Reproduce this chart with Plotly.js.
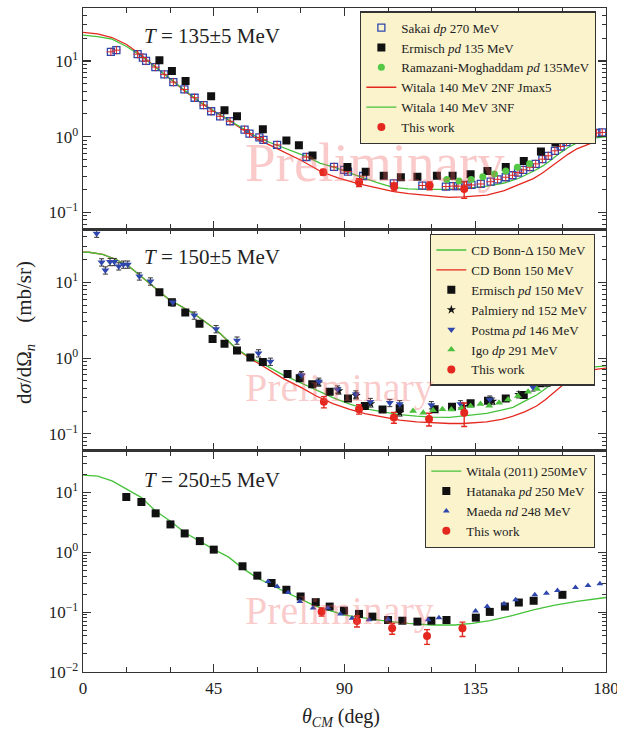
<!DOCTYPE html>
<html><head><meta charset="utf-8">
<script src="https://cdn.plot.ly/plotly-3.0.1.min.js"></script>
<style>html,body{margin:0;padding:0;background:#fff;}</style>
</head><body><div id="chart" style="width:617px;height:730px"></div>
<script>
// ---------- T = 135 MeV panel ----------
const sakaiX = [9.6,11.5,18.8,20.6,21.7,24.9,28.0,31.1,34.9,38.4,41.5,44.1,47.2,50.6,55.6,57.3,60.7,62.1,66.8,76.9,86.4,89.9,91.2,96.4,107.0,116.8,124.9,127.4,129.1,132.0,133.7,136.9,140.3,142.7,145.5,147.8,149.7,151.5,153.8,155.8,158.1,160.1,162.4,164.4,166.4,168.7,171.0,172.8,174.7,176.7,178.7];
const sakaiY = [13.2,13.9,12.3,11.1,10.0,8.3,6.65,5.26,4.21,3.27,2.61,2.17,1.86,1.60,1.24,1.10,0.98,0.91,0.78,0.54,0.40,0.365,0.346,0.303,0.243,0.227,0.220,0.223,0.223,0.231,0.231,0.238,0.255,0.274,0.292,0.31,0.336,0.365,0.396,0.438,0.506,0.56,0.652,0.743,0.85,0.93,1.01,1.05,1.09,1.12,1.14];
const ermisch135X = [26.3,30.6,35.3,44.1,48.7,53.0,61.9,70.0,74.3,79.0,91.0,97.3,103.5,109.4,115.1,121.8,127.2,133.4,139.2,145.5,151.7,157.6,162.6,169.8];
const ermisch135Y = [10.2,7.36,5.42,3.43,2.23,1.86,1.26,0.89,0.77,0.565,0.40,0.346,0.306,0.292,0.297,0.306,0.306,0.32,0.353,0.40,0.48,0.64,0.84,1.16];
const ramazaniX = [125.2,129.4,133.6,137.6,141.6,145.5,149.5,153.7];
const ramazaniY = [0.273,0.26,0.273,0.297,0.323,0.354,0.396,0.44];
const work135X = [82.7,95.0,107.1,119.3,131.2];
const work135Y = [0.34,0.25,0.219,0.227,0.204];
const work135E = [0.03,0.03,0.026,0.027,0.05];
const witala2nfX = [0,5,10,15,20,25,30,35,40,45,50,55,60,65,70,75,82,88,95,101,107,112,117,122,126,131,135,139,145,150,155,158,161,164,167,170,173,175.8];
const witala2nfY = [23.8,22.8,20.4,16.5,12.0,8.4,5.8,4.0,2.9,2.15,1.66,1.24,0.93,0.75,0.61,0.49,0.345,0.285,0.238,0.21,0.188,0.178,0.17,0.163,0.158,0.161,0.165,0.17,0.195,0.231,0.28,0.33,0.40,0.495,0.59,0.693,0.78,0.85];
const witala3nfX = [0,5,10,15,20,25,30,35,40,45,50,55,60,65,70,77,81.5,86.4,91,96.4,101,106.7,112,117,122,126,133,139,145,150,155,158.3,161,164.1,167,169.8,172.5,175.6,178.8,180];
const witala3nfY = [21.9,21.0,19.4,15.5,11.6,8.3,5.84,4.1,2.94,2.2,1.68,1.27,0.98,0.82,0.69,0.547,0.448,0.396,0.34,0.288,0.25,0.215,0.205,0.202,0.2,0.202,0.21,0.223,0.245,0.283,0.35,0.412,0.49,0.608,0.72,0.824,0.9,0.96,0.99,1.0];

// ---------- T = 150 MeV panel ----------
const postmaX = [4.7,6.4,7.7,9.3,10.8,12.3,13.9,15.4,19.4,23.2,30.9,38.3,45.8,53.0,60.4,64.5,75.2,81.2,87.6,93.9,98.9,105.6,109.0,119.9,129.9,140.0,154.9,159.7,165.0,169.8];
const postmaY = [44,18.4,14.4,18.6,18.6,16.3,17.2,17.2,12.0,10.3,5.44,3.66,2.42,1.71,1.16,0.90,0.60,0.49,0.387,0.333,0.265,0.257,0.247,0.24,0.247,0.285,0.412,0.48,0.569,0.77];
const ermisch150X = [26.3,30.6,35.2,40.1,44.6,48.7,53.0,57.6,61.9,70.4,74.6,78.9,84.9,91.2,97.0,103.1,109.0,121.0,127.0,133.4,139.4,145.5,151.7,157.5,169.8];
const ermisch150Y = [7.38,5.44,4.0,2.84,1.78,1.54,1.26,1.02,0.89,0.618,0.54,0.45,0.36,0.294,0.233,0.21,0.217,0.212,0.228,0.253,0.274,0.294,0.326,0.464,0.735];
const palmieryX = [75,81,88,94,99,109,131,141,150,160,165,170];
const palmieryY = [0.58,0.47,0.37,0.32,0.25,0.19,0.23,0.27,0.33,0.47,0.58,0.74];
const igoX = [113.6,117.1,120.5,123.7,126.8,130.3,133.4,136.8,139.8,143.2,146.3,149.7,153.2,156.3];
const igoY = [0.20,0.19,0.205,0.212,0.21,0.217,0.233,0.247,0.235,0.258,0.285,0.316,0.36,0.39];
const work150X = [82.9,95.0,107.0,119.1,131.2];
const work150Y = [0.265,0.212,0.165,0.157,0.19];
const work150E = [0.045,0.03,0.027,0.03,0.065];
const bonnDeltaX = [0,2,6.8,11.4,16,22.9,29.7,37.8,45.8,52.7,57.4,62,68.8,75,80.3,86,91.8,97,103.3,109,114.8,120,126.2,130.8,138.9,144,148,152,156.1,159,161.8,164.5,167.5,170.5,173.3,176.5,180];
const bonnDeltaY = [25,24.9,23.3,20,16,9.8,5.9,3.93,2.37,1.35,1.02,0.84,0.60,0.47,0.38,0.30,0.247,0.215,0.195,0.18,0.171,0.166,0.165,0.171,0.186,0.205,0.224,0.27,0.326,0.39,0.464,0.55,0.63,0.7,0.748,0.775,0.79];
const bonnX = [0,2,6.8,11.4,16,22.9,29.7,37.8,45.8,52.7,57.4,62,68.8,75,80.3,86,91.8,97,103.3,109,114.8,120,126.2,130.8,138.9,144,148,152,156.1,159,161.8,164.5,167.5,170.5,173.3,176.5,180];
const bonnY = [25,24.9,23.3,20,16,9.8,5.9,3.93,2.37,1.33,1.0,0.78,0.54,0.41,0.316,0.25,0.21,0.185,0.165,0.152,0.144,0.14,0.137,0.137,0.144,0.155,0.171,0.195,0.233,0.28,0.343,0.42,0.525,0.6,0.662,0.71,0.735];

// ---------- T = 250 MeV panel ----------
const hatanakaX = [14.9,20.1,25.0,30.1,35.0,40.2,45.0,54.9,60.0,64.9,70.0,74.9,80.1,84.9,89.8,95.0,99.6,105.0,109.9,115.1,119.9,125.1,135.2,140.0,145.2,150.0,155.1,165.0];
const hatanakaY = [8.43,6.95,4.49,2.93,2.07,1.54,1.11,0.585,0.408,0.307,0.237,0.183,0.147,0.124,0.106,0.0935,0.0843,0.074,0.072,0.0695,0.072,0.074,0.081,0.101,0.124,0.145,0.155,0.195];
const maedaX = [63.7,66.8,70.6,74.6,79.2,84.3,88.6,92.6,98.4,105.0,118.8,122.5,135.1,139.1,144.9,148.9,155.5,159.5,163.3,169.5,173.8,177.9];
const maedaY = [0.327,0.269,0.213,0.151,0.117,0.117,0.0935,0.0795,0.0745,0.076,0.0745,0.081,0.105,0.124,0.138,0.161,0.195,0.208,0.231,0.259,0.28,0.299];
const work250X = [82.1,94.3,106.4,118.4,130.6];
const work250Y = [0.102,0.0715,0.0538,0.04,0.0538];
const work250E = [0.016,0.015,0.011,0.011,0.0145];
const witala250X = [0,5,10,15,20,25,30,35,40,45,50,55,60,65,70,75,80,90,100,105,112,120,128,134,140,148,155,162,170,180];
const witala250Y = [19.5,18.8,15.6,11.4,8.3,4.9,3.35,2.15,1.55,1.12,0.84,0.54,0.372,0.28,0.213,0.165,0.126,0.089,0.075,0.07,0.065,0.061,0.061,0.065,0.072,0.088,0.109,0.13,0.152,0.176];

// ---------- axis labels ----------
const xTickVals = [0,45,90,135,180];
const xTickText = ['0','45','90','135','180'];
const xMinorVals = [15,30,60,75,105,120,150,165];
const yDecades = [-2,-1,0,1];
const yTickText = ['10<sup>−2</sup>','10<sup>−1</sup>','10<sup>0</sup>','10<sup>1</sup>'];

const SERIF = 'Liberation Serif, serif';
const RED = '#e4281f', GREEN = '#45c23a', BLUE = '#2f47ad', BLACK = '#111';

function line(x, y, color, name, ax, leg, rank, show=true){
  return {type:'scatter', mode:'lines', x, y, name, xaxis:'x'+ax, yaxis:'y'+ax,
    line:{color, width:1.3}, legend:leg, legendrank:rank, showlegend:show, hoverinfo:'skip'};
}
function pts(x, y, sym, color, size, name, ax, leg, rank, extra={}){
  return Object.assign({type:'scatter', mode:'markers', x, y, name, xaxis:'x'+ax, yaxis:'y'+ax,
    marker:{symbol:sym, color, size, line:{width:0}}, legend:leg, legendrank:rank, cliponaxis:true}, extra);
}
function work(x, y, e, ax, leg, rank){
  return pts(x, y, 'circle', RED, 8, 'This work', ax, leg, rank,
    {error_y:{type:'data', array:e, color:RED, thickness:1.4, width:3}});
}

const traces = [
  // top (axis 3)
  line(witala2nfX, witala2nfY, RED, 'Witala 140 MeV 2NF Jmax5', '3', 'legend', 4),
  line(witala3nfX, witala3nfY, GREEN, 'Witala 140 MeV 3NF', '3', 'legend', 5),
  pts(sakaiX, sakaiY, 'square-open', BLUE, 7, 'Sakai <i>dp</i> 270 MeV', '3', 'legend', 1, {marker:{symbol:'square-open', color:BLUE, size:7, line:{width:1.3, color:BLUE}}}),
  pts(sakaiX, sakaiY, 'cross-thin-open', BLACK, 6, 'Sakai cross', '3', 'legend', 99, {showlegend:false, marker:{symbol:'cross-thin-open', size:6, line:{width:1, color:BLACK}}}),
  pts(ermisch135X, ermisch135Y, 'square', BLACK, 8, 'Ermisch <i>pd</i> 135 MeV', '3', 'legend', 2),
  pts(ramazaniX, ramazaniY, 'circle', '#55c945', 7, 'Ramazani-Moghaddam <i>pd</i> 135MeV', '3', 'legend', 3),
  work(work135X, work135Y, work135E, '3', 'legend', 6),
  // middle (axis 2)
  line(bonnX, bonnY, RED, 'CD Bonn 150 MeV', '2', 'legend2', 2),
  line(bonnDeltaX, bonnDeltaY, GREEN, 'CD Bonn-Δ 150 MeV', '2', 'legend2', 1),
  pts(palmieryX, palmieryY, 'star', BLACK, 7, 'Palmiery nd 152 MeV', '2', 'legend2', 4,
      {error_y:{type:'percent', value:10, color:'#555', thickness:1, width:2.5}}),
  pts(ermisch150X, ermisch150Y, 'square', BLACK, 8, 'Ermisch <i>pd</i> 150 MeV', '2', 'legend2', 3),
  pts(postmaX, postmaY, 'triangle-down', BLUE, 7, 'Postma <i>pd</i> 146 MeV', '2', 'legend2', 5,
      {error_y:{type:'percent', value:11, color:'#333', thickness:1, width:2.5}}),
  pts(igoX, igoY, 'triangle-up', '#4cbf3c', 7, 'Igo <i>dp</i> 291 MeV', '2', 'legend2', 6),
  work(work150X, work150Y, work150E, '2', 'legend2', 7),
  // bottom (axis '')
  line(witala250X, witala250Y, GREEN, 'Witala (2011) 250MeV', '', 'legend3', 1),
  pts(hatanakaX, hatanakaY, 'square', BLACK, 8, 'Hatanaka <i>pd</i> 250 MeV', '', 'legend3', 2),
  pts(maedaX, maedaY, 'triangle-up', BLUE, 6, 'Maeda <i>nd</i> 248 MeV', '', 'legend3', 3),
  work(work250X, work250Y, work250E, '', 'legend3', 4),
];

function xAxis(anchor, labels){
  return {range:[0,180], anchor, tickmode:'array', tickvals:xTickVals, ticktext:xTickText,
    showticklabels:labels, ticks:'inside', ticklen:8, tickwidth:1.1, tickcolor:'#333',
    ticklabeloverflow:'allow',
    showline:true, linecolor:'#333', linewidth:1.3, mirror:'ticks', showgrid:false, zeroline:false,
    tickfont:{family:SERIF, size:17, color:'#222'},
    minor:{tickmode:'array', tickvals:xMinorVals, ticks:'inside', ticklen:5, tickwidth:1.1, tickcolor:'#333', showgrid:false}};
}
function yAxis(domain, range, decs){
  const tv = [], tt = [], mv = [];
  yDecades.forEach((d,i)=>{ if(decs.includes(d)){ tv.push(Math.pow(10,d)); tt.push(yTickText[i]); } });
  for(let d=-3; d<=1; d++) for(let k=2;k<=9;k++) mv.push(k*Math.pow(10,d));
  return {type:'log', domain, range, tickmode:'array', tickvals:tv, ticktext:tt,
    ticks:'inside', ticklen:8, tickwidth:1.1, tickcolor:'#333',
    showline:true, linecolor:'#333', linewidth:1.3, mirror:'ticks', showgrid:false, zeroline:false,
    tickfont:{family:SERIF, size:17, color:'#222'},
    minor:{tickmode:'array', tickvals:mv, ticks:'inside', ticklen:4, tickwidth:1, tickcolor:'#333', showgrid:false}};
}
const legendBase = {xanchor:'right', yanchor:'top', bgcolor:'#fbf3cc', bordercolor:'#333', borderwidth:1.3,
  font:{family:SERIF, size:13, color:'#222'}, tracegroupgap:0, itemwidth:30};

const prelim = (y, size) => ({text:'Preliminary', xref:'paper', yref:'paper', x:0.306, y, xanchor:'left', yanchor:'middle',
  showarrow:false, font:{family:'Liberation Serif, serif', size, color:'rgba(240,90,90,0.33)'}});
const panelLab = (txt, y) => ({text:txt, xref:'paper', yref:'paper', x:0.113, y, xanchor:'left', yanchor:'middle',
  showarrow:false, font:{family:SERIF, size:21, color:'#222'}});

const layout = {
  width:617, height:730, margin:{l:83, r:11, t:8, b:58},
  paper_bgcolor:'white', plot_bgcolor:'white', showlegend:true,
  font:{family:SERIF, size:15, color:'#222'},
  xaxis: xAxis('y', true),
  xaxis2: Object.assign(xAxis('y2', false), {matches:'x'}),
  xaxis3: Object.assign(xAxis('y3', false), {matches:'x'}),
  yaxis: yAxis([0, 0.3333], [-2, Math.log10(50)], [-2,-1,0,1]),
  yaxis2: yAxis([0.3333, 0.6667], [Math.log10(0.06), Math.log10(50)], [-1,0,1]),
  yaxis3: yAxis([0.6667, 1], [Math.log10(0.06), Math.log10(50)], [-1,0,1]),
  legend: Object.assign({x:0.981, y:0.995}, legendBase),
  legend2: Object.assign({x:0.979, y:0.660}, legendBase),
  legend3: Object.assign({x:0.979, y:0.327}, legendBase),
  annotations:[
    prelim(0.767, 55), prelim(0.428, 40), prelim(0.093, 40),
    panelLab('<i>T</i> = 135±5 MeV', 0.958),
    panelLab('<i>T</i> = 150±5 MeV', 0.625),
    panelLab('<i>T</i> = 250±5 MeV', 0.289),
    {text:'d<i>σ</i>/dΩ<sub><i>n</i></sub>\u2003(mb/sr)', xref:'paper', yref:'paper', x:-0.111, y:0.512, textangle:-90,
     xanchor:'center', yanchor:'middle', showarrow:false, font:{family:SERIF, size:21, color:'#222'}},
    {text:'<i>θ<sub>CM</sub></i> (deg)', xref:'paper', yref:'paper', x:0.493, y:-0.069,
     xanchor:'center', yanchor:'middle', showarrow:false, font:{family:SERIF, size:20, color:'#222'}}
  ]
};
Plotly.newPlot('chart', traces, layout, {staticPlot:true, displayModeBar:false});
</script></body></html>
